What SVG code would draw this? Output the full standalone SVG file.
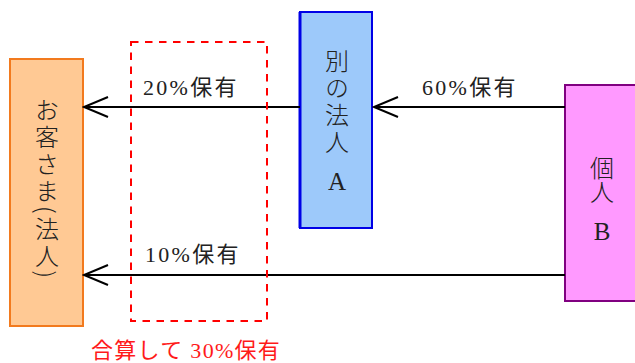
<svg xmlns="http://www.w3.org/2000/svg" width="635" height="363" viewBox="0 0 635 363">
<style>
.lbl{font-family:"Liberation Serif","Noto Sans CJK JP",serif;font-size:22px;fill:#222;}
.red{font-family:"Liberation Serif","Noto Sans CJK JP",serif;font-size:22px;fill:#FF1A1A;}
.vt{font-family:"Noto Sans CJK JP",sans-serif;font-size:24px;fill:#222;writing-mode:vertical-rl;font-weight:300;}
.lat{font-family:"Liberation Serif",serif;font-size:25px;fill:#222;text-anchor:middle;}
.ln{stroke:#000;stroke-width:2;fill:none;}
</style>
<defs>
<marker id="open" viewBox="0 0 27 22" refX="25" refY="11" markerWidth="27" markerHeight="22" markerUnits="userSpaceOnUse" orient="auto">
<path d="M1,1 L25,11 L1,21" fill="none" stroke="#000" stroke-width="2"/>
</marker>
</defs>
<g id="customer">
<rect x="10" y="59" width="73" height="267" fill="#FFC994" stroke="#F27A1E" stroke-width="2"/>
<text class="vt" x="47" y="98" letter-spacing="3">お客さま(法人)</text>
</g>
<g id="corpA">
<rect x="300" y="12" width="72" height="216" fill="#9DC9FA" stroke="#0000E6" stroke-width="2"/>
<line x1="300" y1="12" x2="300" y2="228" stroke="#0000E6" stroke-width="3"/>
<text class="vt" x="337" y="49" letter-spacing="3">別の法人</text>
<text class="lat" x="337" y="190">A</text>
</g>
<g id="personB">
<rect x="565" y="85" width="80" height="216" fill="#FF99FF" stroke="#800080" stroke-width="2"/>
<text class="vt" x="602" y="156" letter-spacing="0">個人</text>
<text class="lat" x="602" y="240">B</text>
</g>
<g id="connectors">
<line class="ln" x1="300" y1="107" x2="84" y2="107" marker-end="url(#open)"/>
<line class="ln" x1="565" y1="107" x2="374" y2="107" marker-end="url(#open)"/>
<line class="ln" x1="565" y1="275" x2="84" y2="275" marker-end="url(#open)"/>
</g>
<g id="group-box">
<rect x="131" y="42" width="136" height="279" fill="none" stroke="#FF0000" stroke-width="2" stroke-dasharray="7.5,6.5"/>
<text class="red" x="91" y="358" letter-spacing="1.3">合算して 30%保有</text>
</g>
<g id="labels">
<text class="lbl" x="143" y="95" letter-spacing="2.3">20%保有</text>
<text class="lbl" x="422" y="95" letter-spacing="2.3">60%保有</text>
<text class="lbl" x="145" y="262" letter-spacing="2.3">10%保有</text>
</g>
</svg>
